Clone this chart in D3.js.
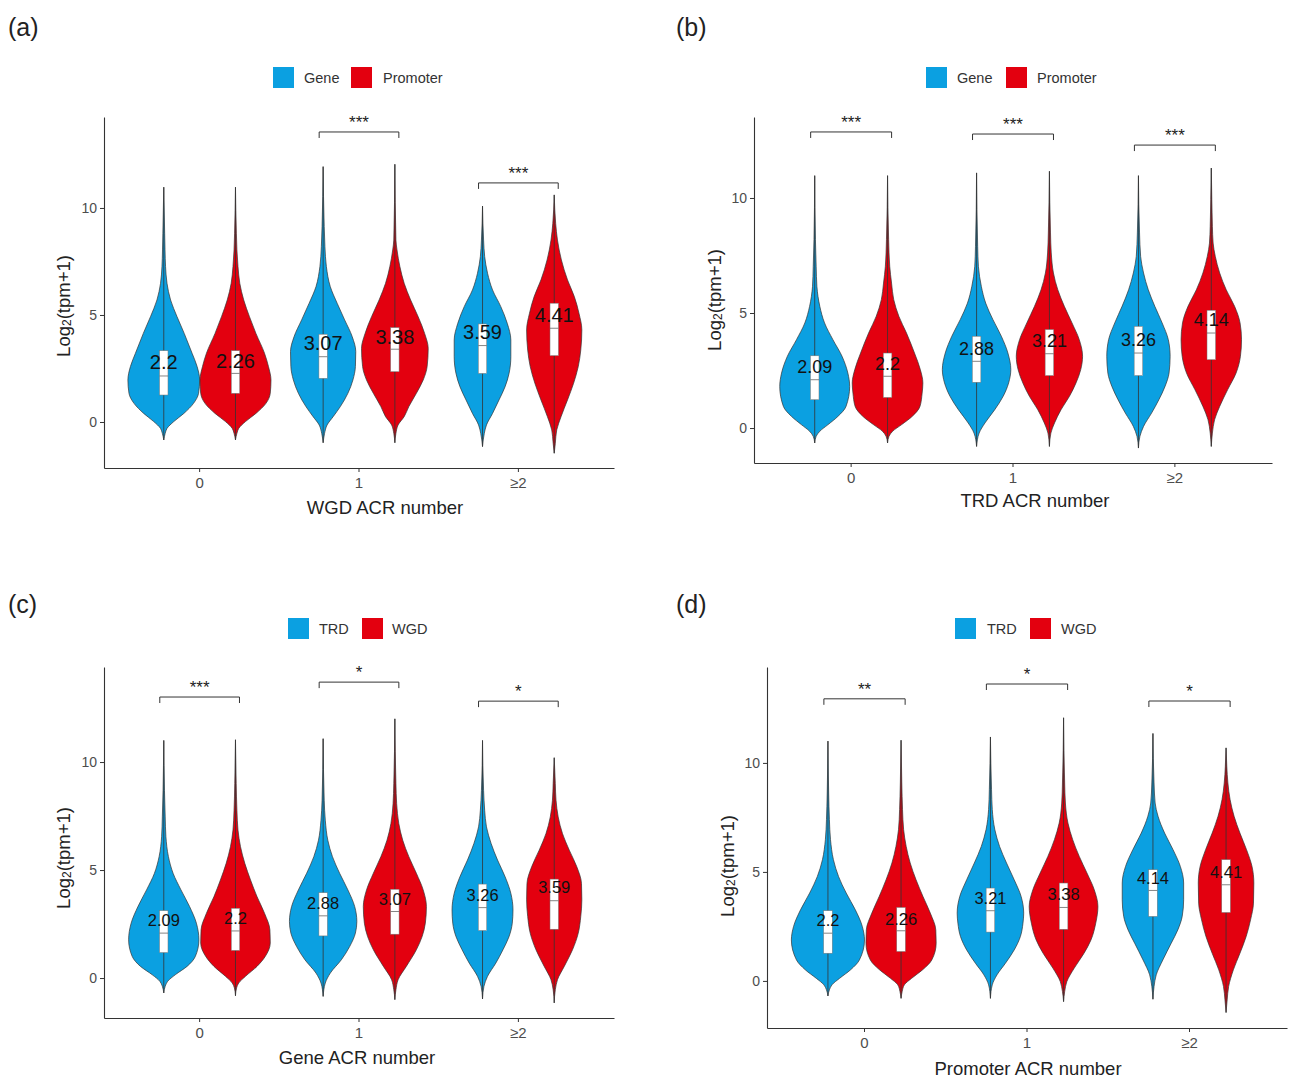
<!DOCTYPE html>
<html><head><meta charset="utf-8">
<script src="https://cdn.jsdelivr.net/npm/d3@7"></script>
<style>body{margin:0;background:#fff}svg{display:block}</style>
</head><body><svg id="c" width="1297" height="1086"></svg>
<script>
// ---------- DATA ----------
const categories = ["0", "1", "≥2"];
const seriesAB = ["Gene", "Promoter"];
const seriesCD = ["TRD", "WGD"];
const yTicks = [0, 5, 10];

// order of each list: [cat0-s1, cat0-s2, cat1-s1, cat1-s2, cat2-s1, cat2-s2]
// box stats: [min, q1, median, q3, max]
const boxA = [[-0.84,1.26,2.15,3.33,10.97],[-0.84,1.34,2.27,3.33,10.97],[-0.97,2.04,3.05,4.10,11.93],[-0.97,2.35,3.40,4.41,12.04],[-1.15,2.27,3.57,4.58,10.09],[-1.46,3.10,4.38,5.55,10.61]];
const boxB = [[-0.65,1.23,2.10,3.14,10.97],[-0.65,1.33,2.25,3.26,10.97],[-0.80,1.99,2.90,3.99,11.09],[-0.80,2.28,3.23,4.28,11.16],[-0.87,2.28,3.26,4.42,10.97],[-0.80,2.97,4.13,5.12,11.30]];
const boxC = [[-0.69,1.18,2.08,3.12,11.00],[-0.82,1.28,2.18,3.23,11.03],[-0.85,1.95,2.88,3.95,11.08],[-1.00,2.03,3.08,4.11,12.00],[-0.97,2.20,3.26,4.35,11.00],[-1.15,2.26,3.58,4.58,10.20]];
const boxD = [[-0.69,1.27,2.19,3.22,11.00],[-0.80,1.35,2.30,3.37,11.04],[-0.80,2.24,3.22,4.26,11.19],[-0.95,2.37,3.37,4.49,12.07],[-0.84,2.96,4.15,5.10,11.35],[-1.45,3.14,4.41,5.56,10.69]];

const meanA = [2.2, 2.26, 3.07, 3.38, 3.59, 4.41];
const meanB = [2.09, 2.2, 2.88, 3.21, 3.26, 4.14];
const meanC = [2.09, 2.2, 2.88, 3.07, 3.26, 3.59];
const meanD = [2.2, 2.26, 3.21, 3.38, 4.14, 4.41];

// violin density profiles: [value, relative half-width]
const violinA = [
  [[-0.84,0],[-0.53,0.04],[-0.30,0.09],[0.02,0.28],[0.40,0.56],[0.87,0.83],[1.34,0.97],[1.96,1.0],[2.59,0.93],[3.21,0.79],[4.14,0.57],[4.92,0.37],[5.70,0.19],[6.48,0.09],[7.26,0.05],[8.04,0.035],[8.82,0.025],[10.97,0]],
  [[-0.84,0],[-0.53,0.04],[-0.30,0.09],[0.02,0.28],[0.40,0.57],[0.87,0.85],[1.34,0.97],[1.96,0.99],[2.59,0.92],[3.21,0.81],[4.14,0.57],[4.92,0.39],[5.70,0.23],[6.48,0.12],[7.26,0.07],[8.04,0.04],[8.82,0.025],[10.97,0]],
  [[-0.97,0],[-0.53,0.04],[-0.14,0.11],[0.25,0.28],[0.72,0.48],[1.34,0.69],[1.96,0.83],[2.59,0.90],[3.29,0.91],[3.99,0.81],[4.77,0.60],[5.55,0.39],[6.32,0.20],[7.26,0.09],[8.19,0.05],[9.13,0.03],[11.93,0]],
  [[-0.97,0],[-0.53,0.03],[-0.14,0.09],[0.25,0.26],[0.72,0.39],[1.34,0.60],[1.96,0.79],[2.59,0.90],[3.44,0.93],[4.14,0.83],[4.92,0.65],[5.70,0.44],[6.48,0.26],[7.26,0.14],[8.04,0.06],[8.50,0.03],[12.04,0]],
  [[-1.15,0],[-0.53,0.05],[-0.14,0.11],[0.40,0.28],[1.03,0.46],[1.65,0.63],[2.27,0.74],[3.05,0.79],[3.83,0.79],[4.61,0.69],[5.39,0.51],[6.17,0.28],[6.95,0.14],[7.73,0.06],[8.50,0.03],[10.09,0]],
  [[-1.46,0],[-1.00,0.03],[-0.37,0.07],[0.25,0.19],[1.03,0.37],[1.81,0.54],[2.59,0.67],[3.36,0.74],[4.30,0.77],[5.08,0.69],[5.86,0.56],[6.64,0.37],[7.57,0.20],[8.50,0.09],[9.28,0.04],[10.61,0]]
];
const violinB = [
  [[-0.65,0],[-0.36,0.04],[-0.14,0.14],[0.14,0.36],[0.51,0.64],[0.94,0.86],[1.81,0.96],[2.39,0.91],[3.12,0.75],[3.84,0.50],[4.57,0.27],[5.29,0.14],[6.16,0.06],[7.03,0.04],[8.19,0.02],[10.97,0]],
  [[-0.65,0],[-0.36,0.04],[-0.14,0.14],[0.14,0.38],[0.51,0.68],[0.94,0.89],[1.52,0.95],[1.96,0.97],[2.54,0.90],[3.26,0.74],[4.13,0.52],[4.86,0.31],[5.58,0.17],[6.30,0.11],[7.03,0.06],[8.19,0.03],[10.97,0]],
  [[-0.80,0],[-0.22,0.07],[0.22,0.23],[0.80,0.50],[1.38,0.73],[1.96,0.88],[2.54,0.94],[3.26,0.86],[3.99,0.68],[4.71,0.45],[5.43,0.25],[6.16,0.13],[7.03,0.05],[7.90,0.03],[11.09,0]],
  [[-0.80,0],[-0.22,0.04],[0.22,0.14],[0.80,0.32],[1.38,0.55],[1.96,0.73],[2.54,0.86],[3.12,0.91],[3.84,0.82],[4.57,0.62],[5.29,0.41],[6.01,0.23],[6.74,0.11],[7.61,0.05],[8.48,0.03],[11.16,0]],
  [[-0.87,0],[-0.36,0.04],[0.07,0.14],[0.65,0.36],[1.23,0.56],[1.81,0.73],[2.39,0.84],[3.12,0.87],[3.84,0.82],[4.57,0.65],[5.29,0.45],[6.01,0.27],[6.74,0.14],[7.46,0.06],[8.48,0.03],[10.97,0]],
  [[-0.80,0],[-0.22,0.03],[0.36,0.09],[0.94,0.23],[1.67,0.45],[2.39,0.68],[3.12,0.80],[3.84,0.83],[4.57,0.79],[5.29,0.64],[6.01,0.41],[6.74,0.23],[7.46,0.11],[8.04,0.05],[8.77,0.03],[9.93,0.014],[11.30,0]]
];
const violinC = [
  [[-0.69,0],[-0.38,0.04],[-0.15,0.11],[0.15,0.32],[0.54,0.65],[1.0,0.88],[1.77,0.98],[2.54,0.91],[3.31,0.72],[4.08,0.48],[4.85,0.26],[5.62,0.13],[6.54,0.06],[7.46,0.04],[8.69,0.02],[11.0,0]],
  [[-0.82,0],[-0.46,0.03],[-0.23,0.09],[0.08,0.28],[0.54,0.60],[1.0,0.83],[1.62,0.97],[2.23,0.96],[3.0,0.81],[3.77,0.60],[4.54,0.42],[5.31,0.26],[6.08,0.14],[6.85,0.07],[7.77,0.04],[9.0,0.02],[11.03,0]],
  [[-0.85,0],[-0.23,0.06],[0.23,0.20],[0.85,0.51],[1.46,0.74],[2.08,0.90],[2.62,0.94],[3.31,0.88],[4.08,0.69],[4.85,0.46],[5.62,0.26],[6.38,0.13],[7.31,0.06],[8.23,0.03],[11.08,0]],
  [[-1.0,0],[-0.54,0.03],[-0.08,0.09],[0.54,0.32],[1.31,0.60],[1.92,0.76],[2.54,0.85],[3.31,0.88],[4.08,0.79],[4.85,0.60],[5.62,0.39],[6.38,0.22],[7.15,0.11],[8.08,0.05],[9.0,0.03],[12.0,0]],
  [[-0.97,0],[-0.38,0.04],[0.08,0.14],[0.69,0.37],[1.31,0.57],[1.92,0.74],[2.54,0.83],[3.15,0.85],[3.92,0.79],[4.69,0.63],[5.46,0.42],[6.23,0.24],[7.0,0.11],[7.77,0.06],[8.69,0.03],[11.0,0]],
  [[-1.15,0],[-0.54,0.03],[-0.08,0.09],[0.54,0.28],[1.31,0.51],[2.08,0.67],[2.85,0.74],[3.62,0.77],[4.38,0.76],[5.15,0.63],[5.92,0.42],[6.69,0.23],[7.46,0.11],[8.23,0.05],[9.0,0.03],[10.2,0]]
];
const violinD = [
  [[-0.69,0],[-0.41,0.04],[-0.18,0.11],[0.12,0.32],[0.51,0.62],[0.96,0.86],[1.88,1.0],[2.50,0.94],[3.26,0.75],[4.03,0.50],[4.79,0.29],[5.56,0.15],[6.48,0.07],[7.40,0.04],[8.62,0.02],[11.0,0]],
  [[-0.80,0],[-0.49,0.03],[-0.18,0.09],[0.12,0.29],[0.51,0.59],[0.96,0.84],[1.73,0.96],[2.34,0.95],[3.11,0.80],[3.87,0.60],[4.64,0.41],[5.41,0.25],[6.17,0.14],[6.94,0.07],[7.86,0.04],[9.08,0.02],[11.04,0]],
  [[-0.80,0],[-0.18,0.05],[0.28,0.18],[0.81,0.41],[1.42,0.65],[2.04,0.82],[2.65,0.89],[3.11,0.91],[3.87,0.84],[4.64,0.65],[5.41,0.44],[6.17,0.25],[6.94,0.12],[7.86,0.05],[8.77,0.03],[11.19,0]],
  [[-0.95,0],[-0.49,0.03],[-0.03,0.09],[0.58,0.29],[1.27,0.56],[1.88,0.75],[2.65,0.88],[3.41,0.94],[4.18,0.84],[4.95,0.64],[5.71,0.43],[6.48,0.25],[7.24,0.12],[8.16,0.05],[9.08,0.03],[12.07,0]],
  [[-0.84,0],[-0.26,0.03],[0.28,0.09],[0.96,0.27],[1.73,0.50],[2.34,0.68],[2.96,0.80],[3.72,0.84],[4.49,0.84],[5.25,0.75],[6.02,0.55],[6.78,0.32],[7.55,0.14],[8.16,0.06],[9.08,0.03],[11.35,0]],
  [[-1.45,0],[-0.87,0.03],[-0.26,0.07],[0.51,0.20],[1.27,0.38],[2.04,0.55],[2.80,0.67],[3.57,0.75],[4.49,0.76],[5.25,0.71],[6.02,0.56],[6.78,0.38],[7.55,0.22],[8.32,0.11],[9.08,0.05],[9.85,0.02],[10.69,0]]
];

// significance per category and bracket heights (data units)
const sigA = ["", "***", "***"];
const sigB = ["***", "***", "***"];
const sigC = ["***", "*", "*"];
const sigD = ["**", "*", "*"];
const bracketA = [null, 13.55, 11.17];
const bracketB = [12.87, 12.78, 12.30];
const bracketC = [13.01, 13.70, 12.82];
const bracketD = [12.94, 13.62, 12.84];

// ---------- LAYOUT ----------
const FONT = "'Liberation Sans', Arial, Helvetica, sans-serif";
const colors = ["#0BA0E1", "#E3000F"];

const panels = [
  {label:"(a)", lab:[8,27], box:boxA, mean:meanA, violin:violinA, sig:sigA, bracket:bracketA, series:seriesAB,
   x0:104, x1:614, yTop:117, yBot:468, lo:-2.15, hi:14.25, legSq:[273,351], legTx:[304,383], legY:67,
   xTitle:"WGD ACR number", xt:[385,507], yt:[63,306], meanFont:20},
  {label:"(b)", lab:[676,27], box:boxB, mean:meanB, violin:violinB, sig:sigB, bracket:bracketB, series:seriesAB,
   x0:754, x1:1272, yTop:117, yBot:463, lo:-1.52, hi:13.52, legSq:[926,1006], legTx:[957,1037], legY:67,
   xTitle:"TRD ACR number", xt:[1035,500], yt:[714,300], meanFont:18},
  {label:"(c)", lab:[8,604], box:boxC, mean:meanC, violin:violinC, sig:sigC, bracket:bracketC, series:seriesCD,
   x0:104, x1:614, yTop:667, yBot:1018, lo:-1.85, hi:14.40, legSq:[288,362], legTx:[319,392], legY:618,
   xTitle:"Gene ACR number", xt:[357,1057], yt:[63,858], meanFont:16.5},
  {label:"(d)", lab:[676,604], box:boxD, mean:meanD, violin:violinD, sig:sigD, bracket:bracketD, series:seriesCD,
   x0:767, x1:1287, yTop:667, yBot:1028, lo:-2.16, hi:14.40, legSq:[955,1030], legTx:[987,1061], legY:618,
   xTitle:"Promoter ACR number", xt:[1028,1068], yt:[727,866], meanFont:16.5}
];

const svg = d3.select("#c");

panels.forEach(p => {
  const g = svg.append("g");
  const x = d3.scaleBand().domain(categories).range([p.x0, p.x1]).paddingInner(0).paddingOuter(0.1);
  const step = x.step();
  const y = d3.scaleLinear().domain([p.lo, p.hi]).range([p.yBot, p.yTop]);
  const cx = ci => x(categories[ci]) + x.bandwidth() / 2;

  // panel label
  g.append("text").attr("x", p.lab[0]).attr("y", p.lab[1]).attr("dominant-baseline", "central")
    .attr("font-family", FONT).attr("font-size", 25).attr("fill", "#222").text(p.label);

  // legend
  p.series.forEach((s, i) => {
    g.append("rect").attr("x", p.legSq[i]).attr("y", p.legY).attr("width", 21).attr("height", 21)
      .attr("fill", colors[i]);
    g.append("text").attr("x", p.legTx[i]).attr("y", p.legY + 11).attr("dominant-baseline", "central")
      .attr("font-family", FONT).attr("font-size", 14.5).attr("fill", "#333").text(s);
  });

  // axes
  const yAxis = d3.axisLeft(y).tickValues(yTicks).tickSize(4).tickSizeOuter(0).tickPadding(3);
  const ga = g.append("g").attr("transform", `translate(${p.x0},0)`).call(yAxis);
  const xAxis = d3.axisBottom(x).tickSize(4).tickSizeOuter(0).tickPadding(5);
  const gx = g.append("g").attr("transform", `translate(0,${p.yBot})`).call(xAxis);
  [ga, gx].forEach(a => {
    a.selectAll("path.domain").attr("stroke", "#333").attr("stroke-width", 1.1);
    a.selectAll(".tick line").attr("stroke", "#333");
    a.selectAll(".tick text").attr("font-family", FONT).attr("fill", "#4D4D4D");
  });
  ga.selectAll(".tick text").attr("font-size", 14);
  gx.selectAll(".tick text").attr("font-size", 15);

  // axis titles
  g.append("text").attr("x", p.xt[0]).attr("y", p.xt[1]).attr("text-anchor", "middle")
    .attr("dominant-baseline", "central").attr("font-family", FONT).attr("font-size", 18.5)
    .attr("fill", "#222").text(p.xTitle);
  const yt = g.append("text").attr("transform", `translate(${p.yt[0]},${p.yt[1]}) rotate(-90)`)
    .attr("text-anchor", "middle").attr("dominant-baseline", "central")
    .attr("font-family", FONT).attr("font-size", 18.5).attr("fill", "#222");
  yt.append("tspan").text("Log");
  yt.append("tspan").attr("font-size", 12).attr("dy", 4).text("2");
  yt.append("tspan").attr("dy", -4).text("(tpm+1)");

  // violins + boxes + labels
  p.violin.forEach((prof, i) => {
    const ci = Math.floor(i / 2), si = i % 2;
    const c = cx(ci) + (si === 0 ? -1 : 1) * 0.225 * step;
    const hw = 0.225 * step;
    const area = d3.area().curve(d3.curveMonotoneY)
      .y(d => y(d[0])).x0(d => c - d[1] * hw).x1(d => c + d[1] * hw);
    g.append("path").attr("d", area(prof)).attr("fill", colors[si])
      .attr("stroke", "#333").attr("stroke-width", 0.7);
    const b = p.box[i];
    g.append("line").attr("x1", c).attr("x2", c).attr("y1", y(b[0])).attr("y2", y(b[4]))
      .attr("stroke", "#333").attr("stroke-width", 0.8);
    const bw = 0.053 * step;
    g.append("rect").attr("x", c - bw / 2).attr("width", bw).attr("y", y(b[3])).attr("height", y(b[1]) - y(b[3]))
      .attr("fill", "#fff").attr("stroke", "#777").attr("stroke-width", 0.5);
    g.append("line").attr("x1", c - bw / 2).attr("x2", c + bw / 2).attr("y1", y(b[2])).attr("y2", y(b[2]))
      .attr("stroke", "#666").attr("stroke-width", 0.8);
    g.append("text").attr("x", c).attr("y", y(p.mean[i]) - 13).attr("text-anchor", "middle")
      .attr("dominant-baseline", "central").attr("font-family", FONT).attr("font-size", p.meanFont)
      .attr("fill", "#111").text(p.mean[i]);
  });

  // significance brackets
  p.sig.forEach((s, ci) => {
    if (!s) return;
    const yb = y(p.bracket[ci]);
    const xa = cx(ci) - 0.25 * step, xb = cx(ci) + 0.25 * step;
    g.append("path").attr("d", `M${xa},${yb + 6}V${yb}H${xb}V${yb + 6}`)
      .attr("fill", "none").attr("stroke", "#333").attr("stroke-width", 1);
    g.append("text").attr("x", cx(ci)).attr("y", yb - 4).attr("text-anchor", "middle")
      .attr("font-family", FONT).attr("font-size", 17).attr("fill", "#222").text(s);
  });
});
</script></body></html>
